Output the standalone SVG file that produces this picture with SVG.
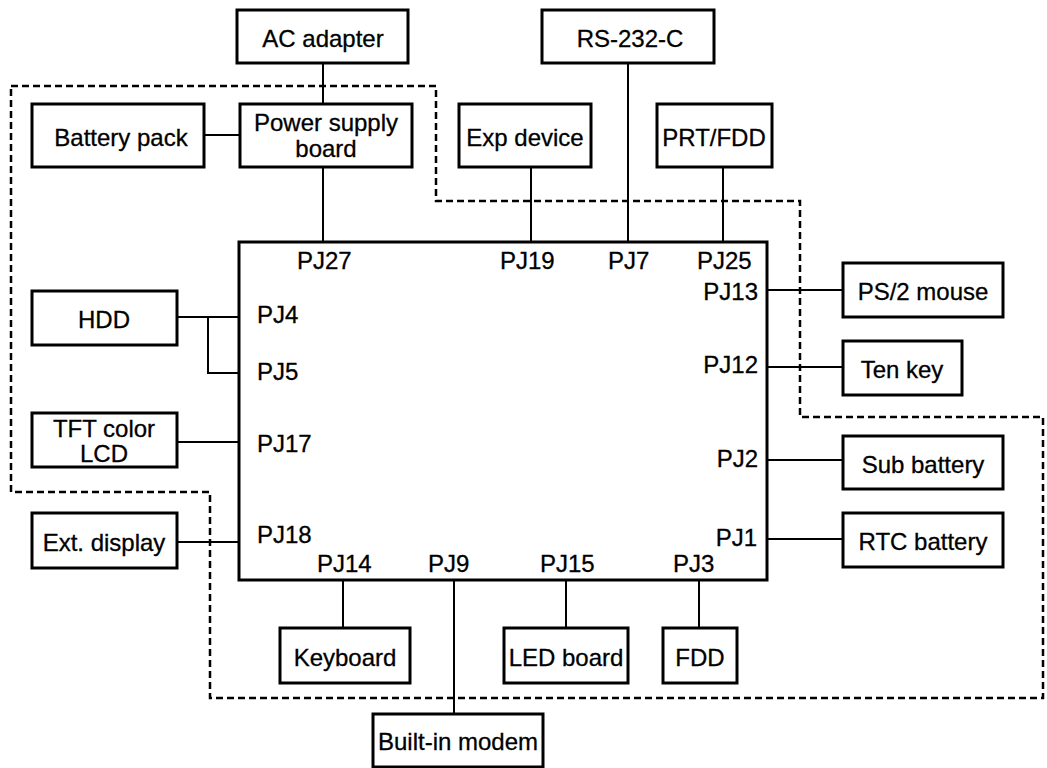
<svg xmlns="http://www.w3.org/2000/svg" width="1047" height="768" viewBox="0 0 1047 768">
<style>
.box{fill:#fff;stroke:#000;stroke-width:3}
.main{fill:none;stroke:#000;stroke-width:3}
.ln{fill:none;stroke:#000;stroke-width:2}
.dash{fill:none;stroke:#000;stroke-width:2.5;stroke-dasharray:7 4}
text{font-family:"Liberation Sans",Arial,sans-serif;font-size:24px;fill:#000;stroke:#000;stroke-width:0.3}
.c{text-anchor:middle}
.e{text-anchor:end}
</style>
<rect width="1047" height="768" fill="#fff"/>
<g id="boundary">
<path class="dash" d="M11,86 H436 V201 H800 V417 H1043 V698 H210 V492 H11 Z"/>
</g>
<g id="connectors">
<path class="ln" d="M323,63 V104"/>
<path class="ln" d="M204,135 H240"/>
<path class="ln" d="M323,167 V242"/>
<path class="ln" d="M531,167 V242"/>
<path class="ln" d="M628,63 V242"/>
<path class="ln" d="M723,167 V242"/>
<path class="ln" d="M177,317 H239"/>
<path class="ln" d="M208,317 V373 H239"/>
<path class="ln" d="M177,442 H239"/>
<path class="ln" d="M177,542 H239"/>
<path class="ln" d="M767,290 H843"/>
<path class="ln" d="M767,367 H843"/>
<path class="ln" d="M767,460 H843"/>
<path class="ln" d="M767,539 H843"/>
<path class="ln" d="M343,580 V628"/>
<path class="ln" d="M454,580 V714"/>
<path class="ln" d="M566,580 V628"/>
<path class="ln" d="M699,580 V628"/>
</g>
<g id="main-board">
<rect class="main" x="239" y="242" width="528" height="338"/>
<text x="297" y="269">PJ27</text>
<text x="500" y="269">PJ19</text>
<text x="608" y="269">PJ7</text>
<text x="697" y="269">PJ25</text>
<text class="e" x="758" y="300">PJ13</text>
<text x="257" y="323">PJ4</text>
<text x="257" y="380">PJ5</text>
<text class="e" x="758" y="373">PJ12</text>
<text x="257" y="452">PJ17</text>
<text class="e" x="758" y="467">PJ2</text>
<text x="257" y="543">PJ18</text>
<text class="e" x="757" y="546">PJ1</text>
<text x="317" y="572">PJ14</text>
<text x="428" y="572">PJ9</text>
<text x="540" y="572">PJ15</text>
<text x="673" y="572">PJ3</text>
</g>
<g id="ac-adapter"><rect class="box" x="237" y="10" width="171" height="53"/><text class="c" x="323" y="47">AC adapter</text></g>
<g id="rs232c"><rect class="box" x="542" y="10" width="172" height="53"/><text class="c" x="630" y="47">RS-232-C</text></g>
<g id="battery-pack"><rect class="box" x="32" y="104" width="172" height="63"/><text class="c" x="121" y="146">Battery pack</text></g>
<g id="power-supply"><rect class="box" x="240" y="104" width="172" height="63"/><text class="c" x="326" y="131">Power supply</text><text class="c" x="326" y="157">board</text></g>
<g id="exp-device"><rect class="box" x="459" y="104" width="132" height="63"/><text class="c" x="525" y="146">Exp device</text></g>
<g id="prt-fdd"><rect class="box" x="657" y="104" width="115" height="63"/><text class="c" x="714" y="146">PRT/FDD</text></g>
<g id="hdd"><rect class="box" x="32" y="291" width="145" height="54"/><text class="c" x="104" y="328">HDD</text></g>
<g id="tft-lcd"><rect class="box" x="32" y="413" width="145" height="54"/><text class="c" x="104" y="437">TFT color</text><text class="c" x="104" y="462">LCD</text></g>
<g id="ext-display"><rect class="box" x="32" y="513" width="145" height="55"/><text class="c" x="104" y="551">Ext. display</text></g>
<g id="ps2-mouse"><rect class="box" x="843" y="263" width="160" height="54"/><text class="c" x="923" y="300">PS/2 mouse</text></g>
<g id="ten-key"><rect class="box" x="843" y="341" width="119" height="54"/><text class="c" x="902" y="378">Ten key</text></g>
<g id="sub-battery"><rect class="box" x="843" y="436" width="160" height="53"/><text class="c" x="923" y="473">Sub battery</text></g>
<g id="rtc-battery"><rect class="box" x="843" y="513" width="160" height="54"/><text class="c" x="923" y="550">RTC battery</text></g>
<g id="keyboard"><rect class="box" x="280" y="628" width="130" height="55"/><text class="c" x="345" y="666">Keyboard</text></g>
<g id="led-board"><rect class="box" x="504" y="628" width="124" height="55"/><text class="c" x="566" y="666">LED board</text></g>
<g id="fdd"><rect class="box" x="663" y="628" width="74" height="55"/><text class="c" x="700" y="666">FDD</text></g>
<g id="built-in-modem"><rect class="box" x="373" y="714" width="170" height="53"/><text class="c" x="458" y="750">Built-in modem</text></g>
</svg>
